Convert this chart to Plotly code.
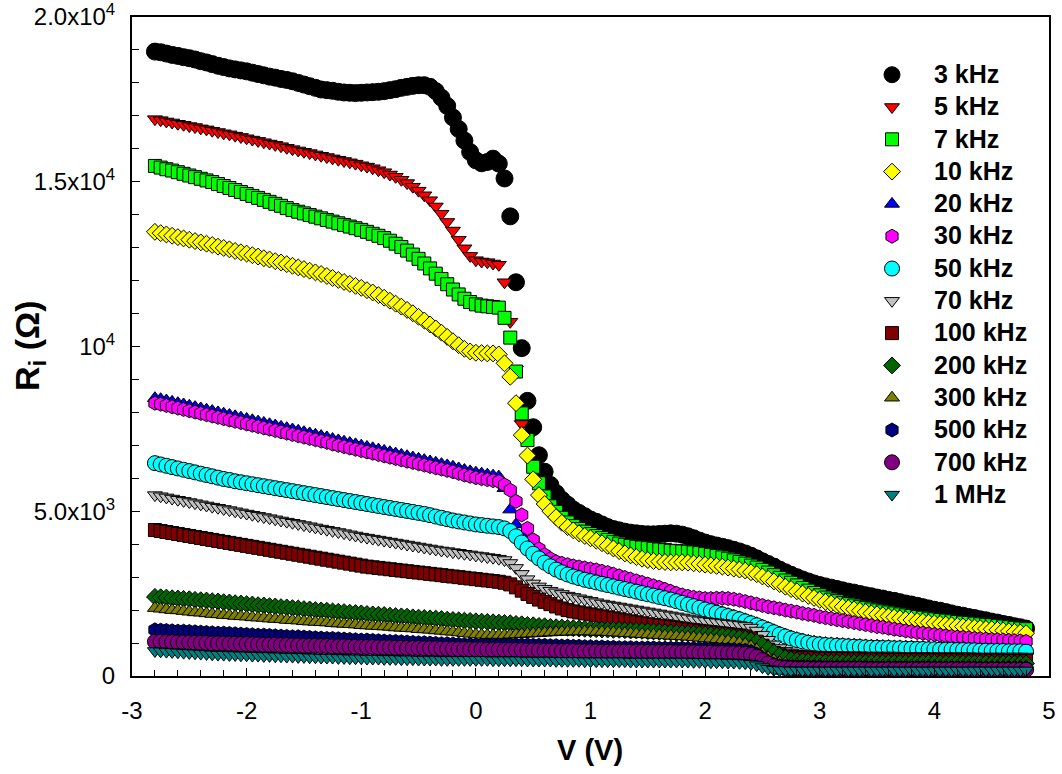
import plotly.graph_objects as go

# Applied voltage sweep (V)
voltage = [
    -2.80, -2.75, -2.70, -2.65, -2.60, -2.55, -2.50, -2.45, -2.40, -2.35,
    -2.30, -2.25, -2.20, -2.15, -2.10, -2.05, -2.00, -1.95, -1.90, -1.85,
    -1.80, -1.75, -1.70, -1.65, -1.60, -1.55, -1.50, -1.45, -1.40, -1.35,
    -1.30, -1.25, -1.20, -1.15, -1.10, -1.05, -1.00, -0.95, -0.90, -0.85,
    -0.80, -0.75, -0.70, -0.65, -0.60, -0.55, -0.50, -0.45, -0.40, -0.35,
    -0.30, -0.25, -0.20, -0.15, -0.10, -0.05, 0.00, 0.05, 0.10, 0.15,
    0.20, 0.25, 0.30, 0.35, 0.40, 0.45, 0.50, 0.55, 0.60, 0.65,
    0.70, 0.75, 0.80, 0.85, 0.90, 0.95, 1.00, 1.05, 1.10, 1.15,
    1.20, 1.25, 1.30, 1.35, 1.40, 1.45, 1.50, 1.55, 1.60, 1.65,
    1.70, 1.75, 1.80, 1.85, 1.90, 1.95, 2.00, 2.05, 2.10, 2.15,
    2.20, 2.25, 2.30, 2.35, 2.40, 2.45, 2.50, 2.55, 2.60, 2.65,
    2.70, 2.75, 2.80, 2.85, 2.90, 2.95, 3.00, 3.05, 3.10, 3.15,
    3.20, 3.25, 3.30, 3.35, 3.40, 3.45, 3.50, 3.55, 3.60, 3.65,
    3.70, 3.75, 3.80, 3.85, 3.90, 3.95, 4.00, 4.05, 4.10, 4.15,
    4.20, 4.25, 4.30, 4.35, 4.40, 4.45, 4.50, 4.55, 4.60, 4.65,
    4.70, 4.75, 4.80,
]

# Ri (Ohm) for each frequency
r_3khz = [
    18950, 18930, 18890, 18850, 18820, 18780, 18750, 18710, 18660, 18620,
    18570, 18520, 18480, 18440, 18410, 18380, 18350, 18310, 18270, 18230,
    18190, 18160, 18120, 18090, 18050, 18000, 17950, 17900, 17850, 17800,
    17780, 17760, 17730, 17710, 17700, 17690, 17700, 17710, 17720, 17730,
    17750, 17780, 17810, 17850, 17880, 17910, 17930, 17930, 17880, 17750,
    17550, 17300, 16950, 16600, 16250, 15900, 15650, 15560, 15600, 15700,
    15550, 15100, 13950, 11950, 9950, 8350, 7550, 6700, 6200, 5800,
    5550, 5350, 5200, 5050, 4950, 4850, 4750, 4680, 4600, 4520,
    4460, 4420, 4380, 4350, 4330, 4310, 4300, 4300, 4310, 4320,
    4330, 4320, 4290, 4240, 4180, 4110, 4050, 4000, 3960, 3920,
    3880, 3830, 3780, 3720, 3650, 3570, 3480, 3400, 3320, 3230,
    3150, 3070, 3000, 2930, 2870, 2810, 2760, 2720, 2680, 2640,
    2600, 2560, 2530, 2490, 2450, 2420, 2380, 2350, 2310, 2280,
    2240, 2200, 2170, 2130, 2090, 2050, 2010, 1980, 1940, 1900,
    1860, 1830, 1790, 1760, 1720, 1690, 1650, 1620, 1580, 1550,
    1510, 1480, 1440,
]
r_5khz = [
    16900, 16870, 16830, 16800, 16760, 16730, 16690, 16660, 16620, 16590,
    16550, 16510, 16470, 16440, 16400, 16360, 16320, 16280, 16240, 16200,
    16160, 16120, 16080, 16030, 15990, 15950, 15910, 15870, 15830, 15790,
    15750, 15710, 15670, 15630, 15590, 15550, 15500, 15460, 15410, 15350,
    15290, 15220, 15150, 15060, 14960, 14850, 14730, 14590, 14440, 14250,
    14030, 13780, 13520, 13240, 12980, 12750, 12620, 12580, 12560, 12520,
    12480, 11950, 10750, 9300, 7650, 7200, 6400, 5900, 5500, 5200,
    5020, 4840, 4700, 4590, 4500, 4420, 4350, 4290, 4230, 4170,
    4110, 4060, 4020, 3990, 3960, 3940, 3920, 3900, 3880, 3860,
    3840, 3830, 3820, 3810, 3790, 3770, 3740, 3710, 3680, 3640,
    3600, 3550, 3500, 3450, 3390, 3330, 3260, 3180, 3100, 3020,
    2940, 2870, 2790, 2710, 2630, 2560, 2490, 2420, 2360, 2310,
    2260, 2220, 2180, 2140, 2100, 2060, 2030, 2000, 1970, 1940,
    1910, 1880, 1860, 1830, 1810, 1780, 1760, 1740, 1720, 1700,
    1680, 1660, 1650, 1630, 1610, 1590, 1580, 1560, 1540, 1520,
    1500, 1480, 1460,
]
r_7khz = [
    15480, 15430, 15380, 15340, 15290, 15240, 15190, 15140, 15090, 15040,
    14990, 14930, 14870, 14810, 14750, 14690, 14630, 14570, 14510, 14450,
    14390, 14330, 14270, 14200, 14140, 14090, 14040, 13990, 13940, 13890,
    13840, 13790, 13740, 13690, 13640, 13590, 13540, 13480, 13420, 13360,
    13290, 13210, 13120, 13020, 12910, 12790, 12660, 12520, 12370, 12210,
    12050, 11890, 11730, 11580, 11450, 11350, 11280, 11240, 11220, 11200,
    11180, 10870, 10270, 9240, 7970, 7160, 6350, 5850, 5450, 5150,
    4980, 4800, 4660, 4550, 4460, 4380, 4310, 4250, 4190, 4130,
    4070, 4020, 3980, 3950, 3920, 3900, 3880, 3860, 3840, 3820,
    3800, 3790, 3780, 3770, 3750, 3730, 3700, 3670, 3640, 3600,
    3560, 3510, 3460, 3410, 3350, 3290, 3220, 3140, 3060, 2980,
    2900, 2830, 2750, 2670, 2590, 2520, 2450, 2380, 2320, 2270,
    2220, 2180, 2140, 2100, 2060, 2020, 1990, 1960, 1930, 1900,
    1870, 1840, 1820, 1790, 1770, 1740, 1720, 1700, 1680, 1660,
    1640, 1620, 1610, 1590, 1570, 1550, 1540, 1520, 1500, 1480,
    1460, 1440, 1420,
]
r_10khz = [
    13480, 13440, 13400, 13360, 13320, 13280, 13240, 13200, 13160, 13120,
    13080, 13030, 12990, 12950, 12900, 12860, 12820, 12770, 12730, 12680,
    12640, 12590, 12550, 12500, 12450, 12400, 12350, 12300, 12250, 12200,
    12140, 12080, 12020, 11960, 11900, 11840, 11780, 11710, 11640, 11560,
    11480, 11390, 11300, 11210, 11110, 11010, 10900, 10790, 10670, 10550,
    10420, 10290, 10160, 10040, 9930, 9850, 9810, 9800, 9790, 9790,
    9760, 9490, 9080, 8280, 7310, 6690, 5970, 5490, 5220, 5000,
    4820, 4650, 4520, 4420, 4330, 4250, 4180, 4110, 4030, 3950,
    3870, 3790, 3720, 3660, 3610, 3560, 3520, 3490, 3470, 3460,
    3450, 3450, 3450, 3440, 3420, 3400, 3380, 3360, 3340, 3320,
    3290, 3260, 3230, 3200, 3150, 3090, 3020, 2950, 2870, 2790,
    2710, 2640, 2570, 2500, 2430, 2370, 2310, 2250, 2200, 2150,
    2100, 2060, 2020, 1980, 1940, 1900, 1870, 1840, 1810, 1780,
    1750, 1720, 1700, 1670, 1650, 1620, 1600, 1580, 1560, 1540,
    1520, 1500, 1490, 1470, 1450, 1430, 1420, 1400, 1380, 1360,
    1340, 1320, 1300,
]
r_20khz = [
    8430, 8400, 8360, 8320, 8280, 8240, 8200, 8160, 8120, 8080,
    8040, 8000, 7960, 7920, 7880, 7840, 7800, 7760, 7720, 7680,
    7640, 7600, 7560, 7520, 7480, 7440, 7400, 7360, 7320, 7280,
    7240, 7190, 7150, 7110, 7070, 7030, 6990, 6950, 6910, 6870,
    6830, 6790, 6750, 6710, 6670, 6630, 6590, 6550, 6510, 6470,
    6430, 6390, 6350, 6300, 6250, 6210, 6170, 6140, 6110, 6080,
    6050, 5700, 5050, 4600, 4250, 3950, 3750, 3600, 3470, 3360,
    3290, 3210, 3140, 3080, 3030, 2980, 2940, 2900, 2860, 2820,
    2780, 2740, 2700, 2660, 2620, 2580, 2540, 2500, 2460, 2420,
    2380, 2330, 2280, 2230, 2180, 2130, 2080, 2030, 1980, 1930,
    1880, 1830, 1780, 1720, 1660, 1600, 1530, 1460, 1390, 1320,
    1260, 1200, 1150, 1110, 1070, 1040, 1020, 1000, 990, 980,
    970, 960, 950, 940, 930, 920, 920, 910, 910, 900,
    900, 890, 890, 880, 880, 870, 870, 860, 860, 860,
    850, 850, 840, 840, 830, 830, 820, 820, 820, 810,
    810, 810, 800,
]
r_30khz = [
    8280, 8250, 8210, 8170, 8130, 8090, 8050, 8010, 7970, 7930,
    7890, 7850, 7810, 7770, 7730, 7690, 7650, 7610, 7570, 7530,
    7490, 7450, 7410, 7370, 7330, 7290, 7250, 7210, 7170, 7130,
    7090, 7040, 7000, 6960, 6920, 6880, 6840, 6800, 6760, 6720,
    6680, 6640, 6600, 6560, 6520, 6480, 6440, 6400, 6360, 6320,
    6280, 6240, 6200, 6150, 6100, 6060, 6020, 5990, 5960, 5930,
    5900, 5800, 5640, 5300, 4890, 4480, 4130, 3860, 3680, 3560,
    3470, 3420, 3380, 3340, 3310, 3280, 3250, 3220, 3180, 3140,
    3090, 3040, 2990, 2940, 2890, 2840, 2790, 2740, 2690, 2630,
    2570, 2510, 2460, 2420, 2390, 2370, 2350, 2350, 2360, 2360,
    2350, 2330, 2300, 2260, 2220, 2180, 2140, 2100, 2070, 2040,
    2000, 1970, 1940, 1900, 1870, 1840, 1800, 1770, 1740, 1710,
    1680, 1650, 1620, 1590, 1560, 1530, 1500, 1480, 1450, 1420,
    1400, 1370, 1350, 1320, 1300, 1280, 1260, 1240, 1220, 1200,
    1180, 1170, 1160, 1140, 1130, 1120, 1110, 1100, 1090, 1080,
    1070, 1060, 1050,
]
r_50khz = [
    6460, 6420, 6380, 6340, 6300, 6260, 6220, 6180, 6140, 6100,
    6060, 6020, 5980, 5950, 5910, 5880, 5850, 5820, 5790, 5760,
    5730, 5700, 5670, 5640, 5610, 5580, 5550, 5520, 5490, 5460,
    5430, 5400, 5370, 5340, 5310, 5280, 5250, 5220, 5190, 5160,
    5130, 5100, 5070, 5040, 5010, 4980, 4950, 4920, 4880, 4840,
    4800, 4760, 4720, 4690, 4660, 4630, 4600, 4580, 4560, 4540,
    4520, 4480, 4400, 4240, 4050, 3870, 3710, 3570, 3440, 3330,
    3230, 3150, 3080, 3020, 2970, 2920, 2880, 2840, 2800, 2760,
    2720, 2680, 2640, 2600, 2560, 2520, 2480, 2440, 2400, 2360,
    2320, 2270, 2220, 2170, 2120, 2070, 2020, 1970, 1920, 1870,
    1820, 1770, 1720, 1660, 1600, 1540, 1470, 1400, 1330, 1260,
    1200, 1140, 1090, 1050, 1010, 980, 960, 940, 930, 920,
    910, 900, 890, 880, 870, 860, 860, 850, 850, 840,
    840, 830, 830, 820, 820, 810, 810, 800, 800, 800,
    790, 790, 780, 780, 770, 770, 760, 760, 760, 750,
    750, 750, 740,
]
r_70khz = [
    5490, 5455, 5420, 5385, 5350, 5315, 5280, 5245, 5210, 5175,
    5140, 5105, 5070, 5035, 5000, 4965, 4930, 4895, 4860, 4825,
    4790, 4755, 4720, 4685, 4650, 4615, 4580, 4545, 4510, 4475,
    4440, 4405, 4370, 4335, 4300, 4265, 4230, 4200, 4170, 4140,
    4110, 4080, 4050, 4020, 3990, 3960, 3930, 3900, 3870, 3840,
    3810, 3790, 3760, 3740, 3710, 3690, 3660, 3640, 3610, 3590,
    3560, 3520, 3430, 3280, 3100, 2940, 2810, 2720, 2650, 2590,
    2540, 2490, 2440, 2400, 2360, 2320, 2280, 2240, 2200, 2170,
    2140, 2110, 2080, 2050, 2020, 1990, 1960, 1930, 1900, 1870,
    1840, 1810, 1780, 1750, 1720, 1690, 1670, 1650, 1630, 1610,
    1590, 1570, 1550, 1520, 1470, 1380, 1250, 1100, 960, 850,
    770, 720, 690, 670, 660, 650, 650, 640, 640, 640,
    630, 630, 630, 630, 620, 620, 620, 620, 620, 620,
    610, 610, 610, 610, 610, 600, 600, 600, 600, 600,
    600, 600, 600, 590, 590, 590, 590, 590, 590, 590,
    590, 590, 590,
]
r_100khz = [
    4430, 4400, 4370, 4340, 4310, 4280, 4250, 4220, 4190, 4160,
    4130, 4100, 4070, 4040, 4010, 3980, 3950, 3920, 3890, 3860,
    3830, 3800, 3770, 3740, 3710, 3680, 3650, 3620, 3590, 3560,
    3530, 3500, 3470, 3440, 3410, 3380, 3350, 3320, 3300, 3280,
    3260, 3240, 3220, 3200, 3180, 3160, 3140, 3120, 3100, 3080,
    3060, 3040, 3020, 3000, 2980, 2960, 2940, 2920, 2900, 2880,
    2860, 2830, 2780, 2690, 2590, 2490, 2400, 2320, 2250, 2180,
    2110, 2050, 2000, 1960, 1930, 1900, 1870, 1840, 1810, 1780,
    1750, 1720, 1690, 1660, 1630, 1600, 1570, 1550, 1530, 1510,
    1490, 1460, 1440, 1410, 1390, 1370, 1350, 1330, 1310, 1290,
    1270, 1250, 1230, 1200, 1140, 1040, 920, 800, 700, 630,
    590, 570, 560, 550, 540, 540, 530, 530, 520, 520,
    520, 510, 510, 510, 500, 500, 500, 500, 490, 490,
    490, 490, 490, 490, 480, 480, 480, 480, 480, 480,
    480, 470, 470, 470, 470, 470, 470, 470, 460, 460,
    460, 460, 460,
]
r_200khz = [
    2400, 2390, 2380, 2360, 2350, 2340, 2330, 2310, 2300, 2290,
    2270, 2260, 2240, 2230, 2210, 2200, 2180, 2170, 2150, 2140,
    2120, 2110, 2090, 2080, 2060, 2050, 2030, 2020, 2000, 1990,
    1980, 1960, 1950, 1940, 1920, 1910, 1900, 1880, 1870, 1860,
    1850, 1830, 1820, 1810, 1800, 1780, 1770, 1760, 1750, 1740,
    1730, 1710, 1700, 1690, 1680, 1670, 1660, 1650, 1640, 1630,
    1620, 1610, 1600, 1580, 1570, 1550, 1540, 1520, 1510, 1490,
    1480, 1470, 1460, 1450, 1440, 1430, 1420, 1420, 1410, 1410,
    1400, 1400, 1390, 1380, 1380, 1370, 1360, 1350, 1340, 1330,
    1320, 1310, 1300, 1290, 1280, 1270, 1260, 1250, 1230, 1220,
    1200, 1180, 1160, 1130, 1090, 1030, 940, 830, 720, 620,
    550, 500, 470, 450, 440, 430, 430, 420, 420, 420,
    420, 410, 410, 410, 410, 410, 410, 400, 400, 400,
    400, 400, 400, 400, 400, 400, 400, 390, 390, 390,
    390, 390, 390, 390, 390, 390, 380, 380, 380, 380,
    380, 380, 380,
]
r_300khz = [
    2060, 2040, 2020, 2000, 1990, 1970, 1950, 1930, 1920, 1900,
    1880, 1870, 1850, 1840, 1820, 1810, 1800, 1780, 1770, 1760,
    1740, 1730, 1720, 1700, 1690, 1680, 1660, 1650, 1640, 1630,
    1620, 1600, 1590, 1580, 1570, 1560, 1540, 1530, 1520, 1510,
    1500, 1490, 1470, 1460, 1450, 1440, 1420, 1410, 1400, 1380,
    1370, 1350, 1340, 1320, 1300, 1280, 1260, 1250, 1240, 1240,
    1240, 1240, 1250, 1260, 1270, 1280, 1290, 1300, 1310, 1320,
    1330, 1340, 1340, 1350, 1350, 1350, 1350, 1340, 1340, 1330,
    1320, 1310, 1300, 1290, 1280, 1270, 1260, 1250, 1240, 1230,
    1220, 1210, 1200, 1190, 1170, 1160, 1140, 1130, 1110, 1090,
    1070, 1040, 1010, 970, 900, 800, 680, 570, 480, 420,
    390, 370, 360, 350, 350, 340, 340, 340, 340, 330,
    330, 330, 330, 330, 330, 320, 320, 320, 320, 320,
    320, 320, 320, 320, 320, 310, 310, 310, 310, 310,
    310, 310, 310, 310, 310, 300, 300, 300, 300, 300,
    300, 300, 300,
]
r_500khz = [
    1400, 1390, 1380, 1370, 1360, 1360, 1350, 1340, 1330, 1320,
    1310, 1300, 1300, 1290, 1280, 1270, 1260, 1250, 1240, 1240,
    1230, 1220, 1210, 1200, 1190, 1190, 1180, 1170, 1160, 1150,
    1140, 1140, 1130, 1120, 1110, 1100, 1090, 1090, 1080, 1070,
    1060, 1050, 1050, 1040, 1030, 1020, 1010, 1010, 1000, 990,
    980, 980, 970, 960, 950, 950, 940, 940, 940, 940,
    940, 940, 940, 940, 940, 940, 930, 930, 930, 920,
    920, 910, 910, 900, 900, 890, 890, 880, 880, 870,
    870, 860, 860, 860, 850, 850, 850, 850, 840, 840,
    840, 840, 840, 830, 830, 830, 830, 820, 820, 810,
    810, 800, 790, 780, 740, 660, 540, 430, 350, 310,
    290, 280, 280, 270, 270, 270, 270, 260, 260, 260,
    260, 260, 260, 260, 260, 250, 250, 250, 250, 250,
    250, 250, 250, 250, 250, 250, 250, 240, 240, 240,
    240, 240, 240, 240, 240, 240, 240, 240, 240, 240,
    240, 240, 240,
]
r_700khz = [
    1040, 1040, 1030, 1030, 1020, 1020, 1010, 1010, 1000, 1000,
    990, 990, 990, 980, 980, 970, 970, 960, 960, 950,
    950, 950, 940, 940, 930, 930, 920, 920, 920, 910,
    910, 900, 900, 900, 890, 890, 880, 880, 880, 870,
    870, 870, 860, 860, 850, 850, 850, 840, 840, 840,
    830, 830, 820, 820, 820, 810, 810, 810, 800, 800,
    800, 790, 790, 790, 790, 780, 780, 780, 770, 770,
    770, 760, 760, 760, 750, 750, 750, 750, 740, 740,
    740, 740, 740, 740, 740, 740, 730, 730, 730, 730,
    730, 720, 720, 720, 720, 710, 710, 710, 700, 700,
    690, 690, 680, 670, 640, 580, 480, 380, 300, 260,
    240, 230, 220, 220, 220, 210, 210, 210, 210, 210,
    210, 210, 210, 210, 200, 200, 200, 200, 200, 200,
    200, 200, 200, 200, 200, 200, 200, 200, 200, 200,
    200, 200, 200, 200, 190, 190, 190, 190, 190, 190,
    190, 190, 190,
]
r_1mhz = [
    760, 750, 740, 730, 720, 710, 700, 690, 680, 670,
    660, 650, 650, 640, 640, 630, 630, 620, 620, 610,
    610, 600, 600, 590, 590, 580, 580, 570, 570, 560,
    560, 560, 550, 550, 540, 540, 540, 530, 530, 530,
    520, 520, 520, 510, 510, 510, 500, 500, 500, 500,
    490, 490, 490, 490, 490, 490, 490, 490, 490, 480,
    480, 480, 480, 480, 480, 470, 470, 470, 470, 470,
    460, 460, 460, 460, 460, 450, 450, 450, 450, 450,
    450, 450, 450, 440, 440, 440, 440, 440, 440, 440,
    440, 440, 440, 440, 430, 430, 430, 420, 420, 420,
    410, 410, 400, 390, 370, 330, 270, 220, 190, 180,
    180, 170, 170, 170, 170, 170, 170, 170, 170, 170,
    170, 170, 170, 170, 170, 170, 170, 170, 170, 170,
    170, 170, 170, 170, 170, 170, 170, 170, 170, 170,
    170, 170, 170, 170, 170, 170, 170, 170, 170, 170,
    170, 170, 170,
]

series_names = ["3 kHz", "5 kHz", "7 kHz", "10 kHz", "20 kHz", "30 kHz", "50 kHz",
                "70 kHz", "100 kHz", "200 kHz", "300 kHz", "500 kHz", "700 kHz", "1 MHz"]
series_values = [r_3khz, r_5khz, r_7khz, r_10khz, r_20khz, r_30khz, r_50khz,
                 r_70khz, r_100khz, r_200khz, r_300khz, r_500khz, r_700khz, r_1mhz]

# styles (kept separate from the data)
symbols = ["circle", "triangle-down", "square", "diamond", "triangle-up", "hexagon", "circle",
           "triangle-down", "square", "diamond", "triangle-up", "hexagon", "circle", "triangle-down"]
colors = ["#000000", "#FF0000", "#00FF00", "#FFFF00", "#0000FF", "#FF00FF", "#00FFFF",
          "#C0C0C0", "#800000", "#006400", "#808000", "#000080", "#800080", "#008080"]
sizes = [17, 13, 13, 13, 13, 14, 15, 13, 13, 13, 13, 14, 15, 13]

for vals in series_values:
    assert len(vals) == len(voltage), (len(vals), len(voltage))

FONT = "Liberation Sans, Arial, sans-serif"

fig = go.Figure()
for i, (name, vals) in enumerate(zip(series_names, series_values)):
    fig.add_trace(go.Scatter(
        x=voltage, y=vals, mode="markers",
        name='<span style="font-size:25px">' + name + '</span>',
        legendgroup=str(i),
        marker=dict(symbol=symbols[i], color=colors[i], size=sizes[i],
                    line=dict(color="black", width=1)),
    ))

fig.update_layout(
    width=1062, height=774,
    margin=dict(l=132, r=13, t=17, b=98),
    paper_bgcolor="white", plot_bgcolor="white",
    font=dict(family=FONT, color="black"),
    showlegend=True,
    legend=dict(
        x=0.783, y=0.943, xanchor="left", yanchor="top",
        bgcolor="rgba(0,0,0,0)", borderwidth=0,
        font=dict(family=FONT, size=21, color="black", weight="bold"),
        tracegroupgap=2, itemwidth=74,
    ),
    xaxis=dict(
        range=[-3, 5], showgrid=False, zeroline=False, automargin=False,
        showline=True, linecolor="black", linewidth=2, mirror=True,
        tickmode="array", tickvals=[-3, -2, -1, 0, 1, 2, 3, 4, 5],
        ticktext=["-3", "-2", "-1", "0", "1", "2", "3", "4", "5"],
        ticks="inside", ticklen=8, tickwidth=1.2, tickcolor="black",
        minor=dict(tick0=-3, dtick=0.2, ticks="inside", ticklen=6, tickwidth=1.2, tickcolor="black"),
        tickfont=dict(family=FONT, size=24, color="black"),
        ticklabelstandoff=12,
    ),
    yaxis=dict(
        range=[0, 20000], showgrid=False, zeroline=False, automargin=False,
        showline=True, linecolor="black", linewidth=2, mirror=True,
        tickmode="array", tickvals=[0, 5000, 10000, 15000, 20000],
        ticktext=["0", "5.0x10<sup>3</sup>", "10<sup>4</sup>", "1.5x10<sup>4</sup>", "2.0x10<sup>4</sup>"],
        ticks="inside", ticklen=8, tickwidth=1.2, tickcolor="black",
        minor=dict(tick0=0, dtick=1000, ticks="inside", ticklen=7, tickwidth=1.2, tickcolor="black"),
        tickfont=dict(family=FONT, size=24, color="black"),
        ticklabelstandoff=10,
    ),
    annotations=[
        dict(text="<b>V (V)</b>", xref="paper", yref="paper", x=0.4995, y=-0.1123,
             xanchor="center", yanchor="middle", showarrow=False,
             font=dict(family=FONT, size=29, color="black")),
        dict(text="<b>R<sub>i</sub> (Ω)</b>", xref="paper", yref="paper", x=-0.1112, y=0.5008,
             xanchor="center", yanchor="middle", showarrow=False, textangle=-90,
             font=dict(family=FONT, size=34, color="black")),
    ],
)

fig.write_html("out.html")
